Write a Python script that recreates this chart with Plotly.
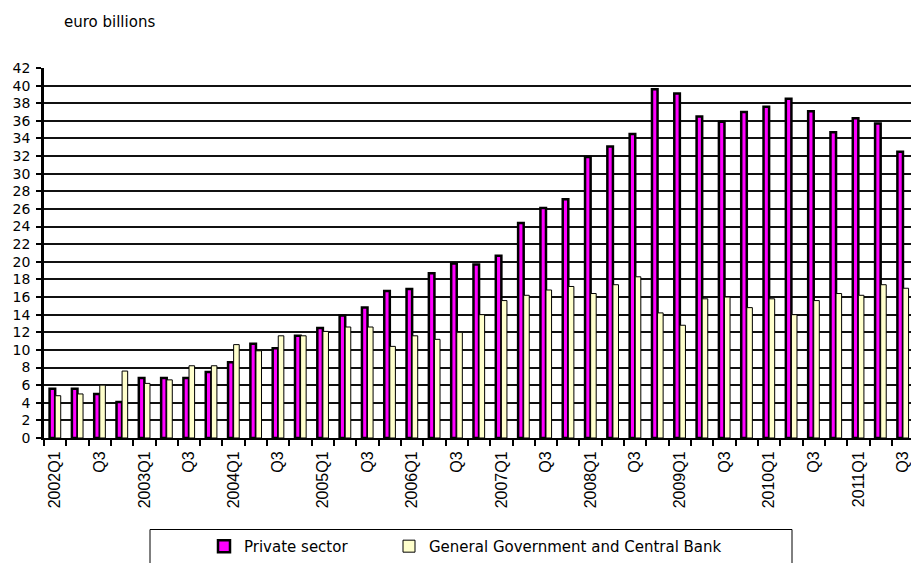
import plotly.graph_objects as go

quarters = [f"{y}Q{q}" for y in range(2002, 2012) for q in range(1, 5)][:39]
tick_labels = [c if c.endswith("Q1") else ("Q3" if c.endswith("Q3") else "") for c in quarters]

private_sector = [5.6, 5.6, 5.0, 4.1, 6.8, 6.8, 6.8, 7.5, 8.6, 10.7, 10.2, 11.6,
                  12.5, 13.9, 14.8, 16.7, 16.9, 18.7, 19.8, 19.7, 20.7, 24.4, 26.1, 27.1,
                  31.9, 33.1, 34.5, 39.6, 39.1, 36.5, 35.9, 37.0, 37.6, 38.5, 37.1, 34.7,
                  36.3, 35.7, 32.5]
gov_central_bank = [4.8, 5.0, 6.0, 7.6, 6.2, 6.6, 8.2, 8.2, 10.6, 9.9, 11.6, 11.6,
                    12.1, 12.6, 12.6, 10.4, 11.6, 11.2, 12.0, 14.0, 15.6, 16.2, 16.8, 17.2,
                    16.4, 17.4, 18.3, 14.2, 12.8, 15.8, 16.0, 14.8, 15.8, 14.0, 15.6, 16.4,
                    16.2, 17.4, 17.0]
y_ticks = list(range(0, 43, 2))

fig = go.Figure()
fig.add_trace(go.Bar(x=quarters, y=private_sector, name="Private sector", legend="legend",
                     marker=dict(color="#FF00FF", line=dict(color="black", width=2.5))))
fig.add_trace(go.Bar(x=quarters, y=gov_central_bank, name="General Government and Central Bank",
                     legend="legend2",
                     marker=dict(color="#FFFFCC", line=dict(color="black", width=1))))

L, R, T, B = 44, 0, 68, 123
W, H = 911, 563
pw = W - L - R
ph = H - T - B

def px(xp):
    return (xp - L) / pw

def py(yp):
    return (H - B - yp) / ph

leg_font = dict(family="DejaVu Sans", size=15, color="black")

fig.update_layout(
    width=W, height=H,
    margin=dict(l=L, r=R, t=T, b=B, pad=0),
    paper_bgcolor="white", plot_bgcolor="white",
    barmode="group", bargap=0.5, bargroupgap=0,
    font=dict(family="DejaVu Sans", size=14, color="black"),
    showlegend=True,
    legend=dict(orientation="h", x=px(204), xanchor="left", y=py(549), yanchor="middle",
                font=leg_font, bgcolor="rgba(0,0,0,0)", borderwidth=0),
    legend2=dict(orientation="h", x=px(389), xanchor="left", y=py(549), yanchor="middle",
                 font=leg_font, bgcolor="rgba(0,0,0,0)", borderwidth=0),
    xaxis=dict(type="category", range=[-0.5, 38.36],
               tickmode="array", tickvals=quarters, ticktext=tick_labels,
               tickson="boundaries", ticks="outside", ticklen=6, tickcolor="black", tickwidth=1.5,
               tickangle=-90, ticklabelstandoff=5,
               tickfont=dict(family="Liberation Sans", size=16, color="black"),
               showline=True, linecolor="black", linewidth=2, showgrid=False),
    yaxis=dict(range=[0, 42], tickmode="array", tickvals=y_ticks,
               ticks="outside", ticklen=5, tickcolor="black", tickwidth=1.5,
               ticklabelstandoff=3,
               tickfont=dict(family="DejaVu Sans", size=14, color="black"),
               showline=True, linecolor="black", linewidth=2.5,
               showgrid=True, gridcolor="#111111", gridwidth=1.8, zeroline=False),
    shapes=[dict(type="rect", xref="paper", yref="paper",
                 x0=px(150), x1=px(792), y0=py(532), y1=py(572),
                 line=dict(color="black", width=1), fillcolor="rgba(0,0,0,0)")],
    annotations=[dict(text="euro billions", xref="paper", yref="paper",
                      x=px(62), y=py(22), xanchor="left", yanchor="middle",
                      showarrow=False, font=dict(family="DejaVu Sans", size=15, color="black"))],
)

fig.write_html("out.html")
